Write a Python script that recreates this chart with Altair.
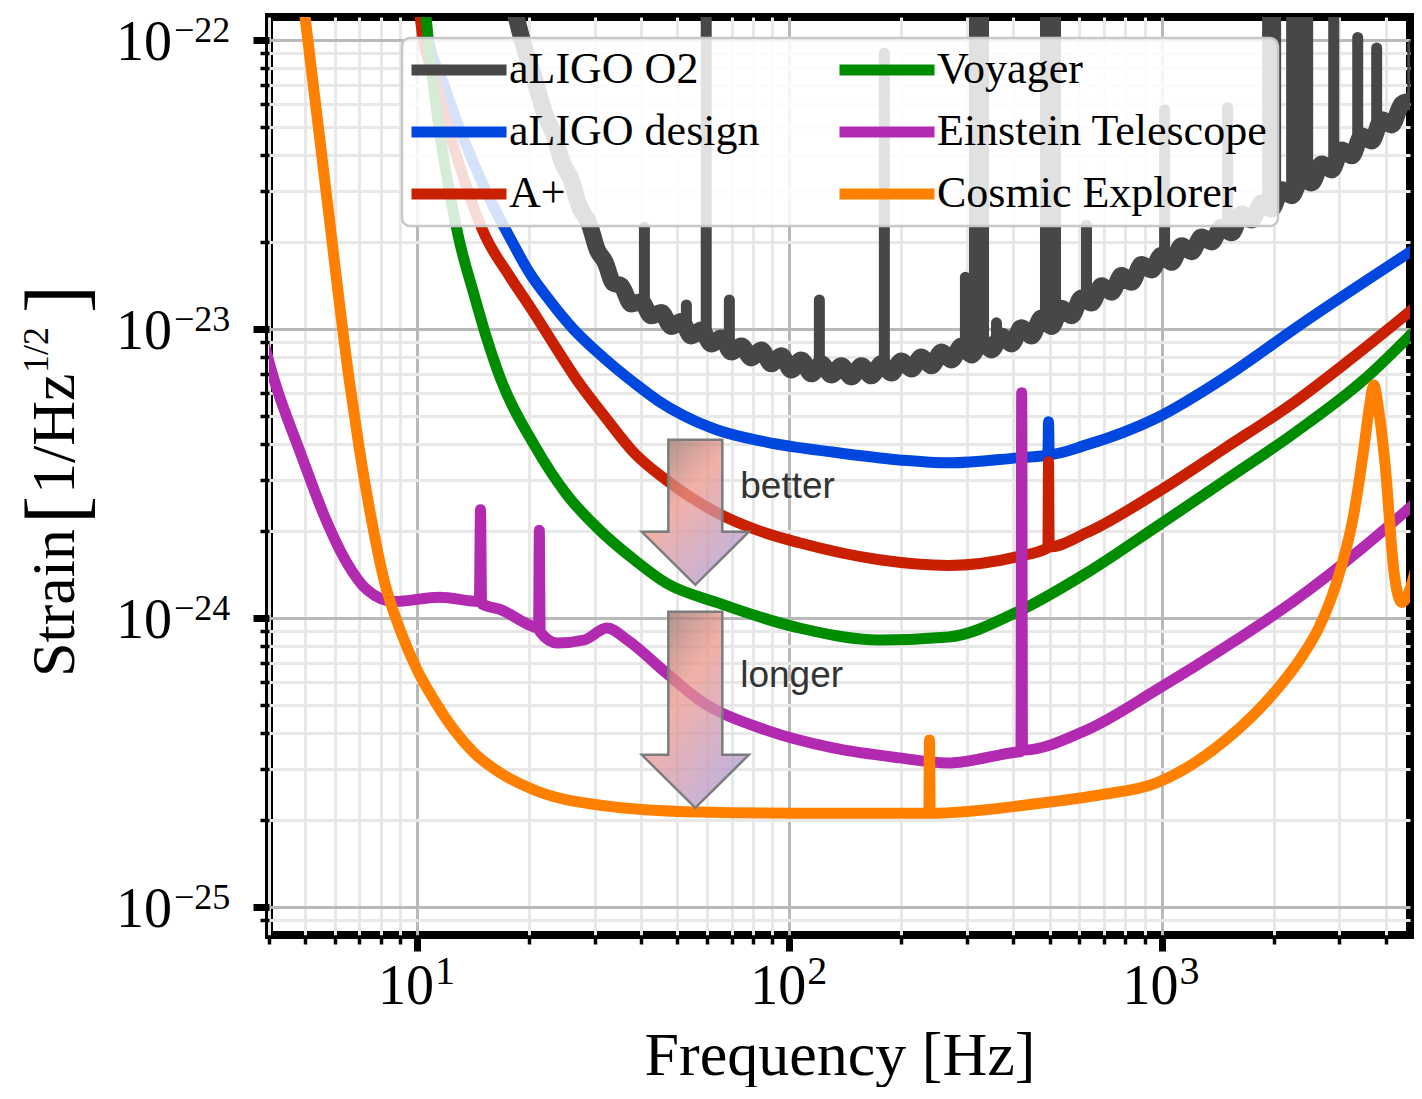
import altair as alt
import pandas as pd

# ---------------- values ----------------
o2_f = [17.89, 18.46, 19.63, 20.63, 21.95, 23.35, 24.54, 25.94, 27.26, 29.00,
        30.47, 32.02, 33.65, 35.35, 37.61, 40.02, 42.56, 45.28, 48.18, 51.25,
        54.52, 57.99, 61.70, 65.63, 69.83, 74.30, 79.03, 84.07, 89.45, 95.17,
        101.2, 107.7, 114.6, 121.9, 129.7, 138.0, 146.8, 156.2, 166.1, 176.8,
        188.1, 200.1, 212.8, 226.4, 240.9, 256.3, 272.7, 290.1, 308.6, 328.3,
        349.3, 371.6, 395.4, 420.6, 447.4, 475.9, 506.3, 538.6, 573.0, 609.5,
        648.4, 690.0, 733.9, 780.8, 830.7, 883.5, 940.0, 1000, 1064, 1132,
        1204, 1281, 1363, 1450, 1543, 1641, 1746, 1858, 1976, 2102,
        2236, 2379, 2531, 2692, 2864, 3047, 3242, 3448, 3668, 3903,
        4152, 4417, 4699, 4937]
o2_h = [1.43e-22, 1.20e-22, 8.95e-23, 7.39e-23, 5.63e-23, 4.65e-23, 3.78e-23, 3.28e-23, 2.66e-23, 2.31e-23,
        1.88e-23, 1.70e-23, 1.44e-23, 1.41e-23, 1.22e-23, 1.24e-23, 1.11e-23, 1.14e-23, 1.02e-23, 1.06e-23,
        9.46e-24, 9.92e-24, 8.87e-24, 9.31e-24, 8.32e-24, 8.73e-24, 7.94e-24, 8.46e-24, 7.57e-24, 8.07e-24,
        7.21e-24, 7.81e-24, 6.99e-24, 7.57e-24, 6.93e-24, 7.45e-24, 6.82e-24, 7.45e-24, 6.88e-24, 7.57e-24,
        7.04e-24, 7.75e-24, 7.27e-24, 8.00e-24, 7.45e-24, 8.32e-24, 7.81e-24, 8.73e-24, 8.13e-24, 9.02e-24,
        8.46e-24, 9.46e-24, 8.87e-24, 1.01e-23, 9.46e-24, 1.09e-23, 1.02e-23, 1.18e-23, 1.11e-23, 1.28e-23,
        1.23e-23, 1.41e-23, 1.34e-23, 1.53e-23, 1.45e-23, 1.67e-23, 1.60e-23, 1.80e-23, 1.70e-23, 1.94e-23,
        1.85e-23, 2.08e-23, 2.00e-23, 2.25e-23, 2.15e-23, 2.50e-23, 2.38e-23, 2.73e-23, 2.60e-23, 3.03e-23,
        2.89e-23, 3.33e-23, 3.20e-23, 3.72e-23, 3.55e-23, 4.16e-23, 3.97e-23, 4.65e-23, 4.47e-23, 5.29e-23,
        5.08e-23, 6.00e-23, 6.20e-23, 7.04e-23]

o2_spike_f = [40.8, 52.9, 59.8, 69.0, 120.4, 180.0, 297.2, 314.4, 332.4, 360.2, 487.7, 518.9, 628.6,
              771.1, 1019, 1505, 1927, 2025, 2236, 2350, 2469, 2901, 3365, 3784, 4728]
o2_spike_base = [1.2e-23, 1.01e-23, 9.3e-24, 8.6e-24, 7.3e-24, 7.3e-24, 8.3e-24, 8.5e-24, 8.6e-24, 8.9e-24,
                 1.06e-23, 1.09e-23, 1.26e-23, 1.48e-23, 1.76e-23, 2.20e-23, 2.64e-23, 2.75e-23, 3.03e-23,
                 3.15e-23, 3.28e-23, 3.84e-23, 4.58e-23, 5.2e-23, 6.6e-23]
o2_spike_top = [2.25e-23, 1.21e-23, 3e-22, 1.26e-23, 1.26e-23, 9.0e-23, 1.51e-23, 3e-22, 3e-22, 1.05e-23,
                3e-22, 3e-22, 2.29e-23, 1.56e-23, 5.72e-23, 5.82e-23, 3e-22, 3e-22, 3e-22, 3e-22, 3e-22,
                3e-22, 1.02e-22, 9.38e-23, 9.61e-23]

design_f = [10.19, 10.44, 11.89, 13.63, 15.62, 17.78, 20.00, 22.64, 26.27, 30.47, 38.31, 44.45, 51.57,
            64.05, 86.75, 130.5, 197.6, 267.6, 410.2, 495, 497, 499, 628.6, 969.6, 1486, 2350, 4877]
design_h = [1.75e-22, 1.20e-22, 6.82e-23, 4.23e-23, 2.84e-23, 2.06e-23, 1.57e-23, 1.26e-23, 1.00e-23,
            8.32e-24, 6.50e-24, 5.64e-24, 5.04e-24, 4.47e-24, 4.06e-24, 3.75e-24, 3.52e-24, 3.44e-24,
            3.58e-24, 3.66e-24, 4.77e-24, 3.68e-24, 3.97e-24, 4.92e-24, 6.82e-24, 1.03e-23, 1.92e-23]

aplus_f = [10.0, 10.19, 11.25, 12.57, 15.23, 17.67, 20.38, 23.35, 26.76, 31.82, 38.31, 46.71, 64.05,
           83.06, 106.4, 174.6, 267.6, 410.2, 495, 497, 499, 628.6, 969.6, 1486, 2278, 3201, 4877]
aplus_h = [1.75e-22, 1.20e-22, 6.99e-23, 4.23e-23, 2.10e-23, 1.53e-23, 1.16e-23, 8.80e-24, 6.71e-24,
           5.00e-24, 3.72e-24, 3.00e-24, 2.31e-24, 2.00e-24, 1.82e-24, 1.59e-24, 1.52e-24, 1.63e-24,
           1.75e-24, 3.47e-24, 1.76e-24, 1.97e-24, 2.71e-24, 3.88e-24, 5.59e-24, 7.81e-24, 1.21e-23]

voyager_f = [10.31, 10.57, 10.97, 11.53, 12.19, 12.97, 14.23, 15.43, 16.72, 20.63, 25.30, 30.85, 38.31,
             46.71, 64.05, 106.4, 174.6, 267.6, 410.2, 628.6, 969.6, 1486, 2278, 3491, 4877]
voyager_h = [1.75e-22, 1.20e-22, 7.56e-23, 4.69e-23, 3.03e-23, 2.03e-23, 1.31e-23, 9.16e-24, 6.77e-24,
             3.97e-24, 2.66e-24, 2.02e-24, 1.59e-24, 1.32e-24, 1.13e-24, 9.23e-25, 8.39e-25, 8.59e-25,
             1.05e-24, 1.43e-24, 2.07e-24, 3.00e-24, 4.37e-24, 6.66e-24, 1.01e-23]

et_f = [3.81, 4.13, 4.85, 5.62, 6.48, 7.34, 8.67, 11.5, 14.7, 14.8, 14.9, 16.7, 20.6, 21.2, 21.3, 21.4,
        23.8, 28.1, 32.4, 36.7, 46.7, 57.3, 86.7, 131, 198, 267, 410, 419, 421, 423, 628, 970, 1486,
        2280, 3491, 4909]
et_h = [9.7e-24, 6.66e-24, 3.75e-24, 2.27e-24, 1.55e-24, 1.25e-24, 1.14e-24, 1.18e-24, 1.14e-24, 2.37e-24,
        1.12e-24, 1.07e-24, 9.31e-25, 9.2e-25, 2.01e-24, 8.95e-25, 8.19e-25, 8.39e-25, 9.23e-25, 8.39e-25,
        6.45e-25, 5.20e-25, 4.09e-25, 3.55e-25, 3.28e-25, 3.15e-25, 3.44e-25, 3.45e-25, 6.01e-24, 3.49e-25,
        4.09e-25, 5.64e-25, 7.94e-25, 1.15e-24, 1.76e-24, 2.56e-24]

ce_f = [4.76, 5.0, 5.73, 6.57, 6.98, 7.48, 8.15, 9.00, 10.0, 11.11, 12.57, 14.23, 16.72, 20.63, 31.04,
        57.65, 106, 175, 237, 238, 239, 476, 681, 970, 1486, 2037, 2350, 2659, 2937, 3281, 3491, 3624,
        3715, 3831, 3975, 4227, 4416, 4642, 4909]
ce_h = [2.0e-22, 1.2e-22, 2.79e-23, 6.66e-24, 3.91e-24, 2.31e-24, 1.35e-24, 9.09e-25, 6.61e-25, 5.20e-25,
        4.10e-25, 3.41e-25, 2.91e-25, 2.54e-25, 2.25e-25, 2.13e-25, 2.11e-25, 2.11e-25, 2.11e-25, 3.78e-25,
        2.11e-25, 2.29e-25, 2.44e-25, 2.69e-25, 3.78e-25, 5.64e-25, 7.16e-25, 9.38e-25, 1.30e-24, 2.27e-24,
        3.81e-24, 5.46e-24, 6.40e-24, 5.25e-24, 3.52e-24, 1.39e-24, 1.13e-24, 1.25e-24, 1.63e-24]

legend_order = ["aLIGO O2", "aLIGO design", "A+", "Voyager", "Einstein Telescope", "Cosmic Explorer"]
legend_colors = ["#474747", "#0047e0", "#c82000", "#008c00", "#b22ab0", "#ff8000"]

x_tick_values = [4, 5, 6, 7, 8, 9, 10, 20, 30, 40, 50, 60, 70, 80, 90,
                 100, 200, 300, 400, 500, 600, 700, 800, 900, 1000, 2000, 3000, 4000]
y_tick_values = [9e-26, 1e-25, 2e-25, 3e-25, 4e-25, 5e-25, 6e-25, 7e-25, 8e-25, 9e-25,
                 1e-24, 2e-24, 3e-24, 4e-24, 5e-24, 6e-24, 7e-24, 8e-24, 9e-24,
                 1e-23, 2e-23, 3e-23, 4e-23, 5e-23, 6e-23, 7e-23, 8e-23, 9e-23, 1e-22]
x_label_values = [10, 100, 1000]
x_label_exp = ["1", "2", "3"]
y_label_values = [1e-25, 1e-24, 1e-23, 1e-22]
y_label_exp = ["\u221225", "\u221224", "\u221223", "\u221222"]

arrow_f = [55.9]
arrow1_h = [2.33e-24]
arrow2_h = [4.81e-25]
note_text = ["better", "longer"]
note_f = [73.8, 73.8]
note_h = [2.84e-24, 6.30e-25]

# ---------------- tables ----------------
def series_df(name, fs, hs):
    return pd.DataFrame({"detector": name, "f": fs, "h": hs, "i": list(range(len(fs)))})

o2_df = series_df("aLIGO O2", o2_f, o2_h)
others_df = pd.concat([
    series_df("aLIGO design", design_f, design_h),
    series_df("A+", aplus_f, aplus_h),
    series_df("Voyager", voyager_f, voyager_h),
    series_df("Einstein Telescope", et_f, et_h),
    series_df("Cosmic Explorer", ce_f, ce_h),
], ignore_index=True)
spikes_df = pd.DataFrame({"f": o2_spike_f, "h": o2_spike_base, "top": o2_spike_top})
xlab_df = pd.DataFrame({"f": x_label_values, "exp": x_label_exp})
ylab_df = pd.DataFrame({"h": y_label_values, "exp": y_label_exp})
arrow1_df = pd.DataFrame({"f": arrow_f, "h": arrow1_h})
arrow2_df = pd.DataFrame({"f": arrow_f, "h": arrow2_h})
notes_df = pd.DataFrame({"f": note_f, "h": note_h, "t": note_text})
one_df = pd.DataFrame({"k": [0]})

# ---------------- scales / axes ----------------
W, H = 1141, 918
xscale = alt.Scale(type="log", domain=[4, 4650], nice=False)
yscale = alt.Scale(type="log", domain=[8e-26, 1.2e-22], nice=False)

major = "abs(log(datum.value)/LN10 - round(log(datum.value)/LN10)) < 0.001"


def cond(a, b):
    return {"condition": {"test": major, "value": a}, "value": b}


xaxis = alt.Axis(values=x_tick_values, labels=False, domain=False, tickColor="black",
                 tickSize=cond(16, 9), tickWidth=cond(7, 3.5), grid=True,
                 gridColor=cond("#b9b9b9", "#e8e8e8"), gridWidth=3,
                 title="Frequency [Hz]", titleFont="Liberation Serif", titleFontSize=62,
                 titleFontWeight="normal", titleColor="black", titleY=139,
                 titleBaseline="alphabetic")
yaxis = alt.Axis(values=y_tick_values, labels=False, domain=False, tickColor="black",
                 tickSize=cond(16, 9), tickWidth=cond(7, 3.5), grid=True,
                 gridColor=cond("#b9b9b9", "#e8e8e8"), gridWidth=3, title=None)

X = alt.X("f:Q", scale=xscale, axis=xaxis)
Y = alt.Y("h:Q", scale=yscale, axis=yaxis)

legend = alt.Legend(orient="none", legendX=133, legendY=21, columns=2, title=None,
                    symbolType="M-45,0L145,0", symbolSize=1, symbolStrokeWidth=11, symbolOpacity=1,
                    labelFont="Liberation Serif", labelFontSize=44, labelColor="black",
                    labelLimit=700, labelOffset=53, fillColor="rgba(255,255,255,0.84)",
                    strokeColor="#c8c8c8", cornerRadius=8, padding=10, rowPadding=18,
                    columnPadding=57)
color = alt.Color("detector:N", scale=alt.Scale(domain=legend_order, range=legend_colors),
                  legend=legend)

o2_line = alt.Chart(o2_df).mark_line(clip=True, interpolate="monotone", strokeWidth=17,
                                     strokeJoin="round", strokeCap="round").encode(
    x=X, y=Y, color=color, order="i:Q")
spikes = alt.Chart(spikes_df).mark_rule(clip=True, strokeWidth=11, strokeCap="round",
                                        color="#474747").encode(x=X, y=Y, y2="top:Q")
other_lines = alt.Chart(others_df).mark_line(clip=True, interpolate="monotone", strokeWidth=11,
                                             strokeJoin="round", strokeCap="round").encode(
    x=X, y=Y, color=color, order="i:Q")

grad = alt.LinearGradient(gradient="linear", x1=0.1, y1=0, x2=0.9, y2=1, stops=[
    alt.GradientStop(offset=0, color="rgba(140,112,108,0.80)"),
    alt.GradientStop(offset=0.38, color="rgba(236,150,138,0.74)"),
    alt.GradientStop(offset=1, color="rgba(165,158,226,0.78)"),
])
arrow1_path = "M-0.27,-0.72L0.27,-0.72L0.27,0.20L0.535,0.20L0,0.73L-0.535,0.20L-0.27,0.20Z"
arrow2_path = "M-0.27,-0.98L0.27,-0.98L0.27,0.45L0.535,0.45L0,0.98L-0.535,0.45L-0.27,0.45Z"
arrow1 = alt.Chart(arrow1_df).mark_point(shape=arrow1_path, size=40000, filled=True, fill=grad,
                                         stroke="#7c7c7c", strokeWidth=2.5, opacity=1).encode(x=X, y=Y)
arrow2 = alt.Chart(arrow2_df).mark_point(shape=arrow2_path, size=40000, filled=True, fill=grad,
                                         stroke="#7c7c7c", strokeWidth=2.5, opacity=1).encode(x=X, y=Y)
notes = alt.Chart(notes_df).mark_text(font="Liberation Sans", fontSize=37, align="left",
                                      baseline="middle", color="#333333").encode(x=X, y=Y, text="t:N")

serif = "Liberation Serif"
ylab_base = alt.Chart(ylab_df).mark_text(text="10", font=serif, fontSize=56, align="right",
                                         baseline="middle", dy=3, color="black").encode(
    y=Y, x=alt.value(-97))
ylab_exp = alt.Chart(ylab_df).mark_text(font=serif, fontSize=36, align="left", baseline="middle",
                                        dy=-9, color="black").encode(
    y=Y, x=alt.value(-95), text="exp:N")
xlab_base = alt.Chart(xlab_df).mark_text(text="10", font=serif, fontSize=56, align="right",
                                         baseline="middle", dx=17, color="black").encode(
    x=X, y=alt.value(H + 52))
xlab_exp = alt.Chart(xlab_df).mark_text(font=serif, fontSize=40, align="left", baseline="middle",
                                        dx=18, color="black").encode(
    x=X, y=alt.value(H + 37), text="exp:N")


def rot(txt, size, xv, yv):
    return alt.Chart(one_df).mark_text(text=txt, font=serif, fontSize=size, angle=270, align="left",
                                       baseline="alphabetic", color="black").encode(
        x=alt.value(xv), y=alt.value(yv))


ytitle = [
    rot("Strain", 62, -195, 660),
    rot("[", 84, -185, 507),
    rot("1/Hz", 62, -195, 477),
    rot("1/2", 36, -221, 356),
    rot("]", 84, -185, 296),
]

chart = alt.layer(o2_line, spikes, other_lines, arrow1, arrow2, notes,
                  ylab_base, ylab_exp, xlab_base, xlab_exp, *ytitle).properties(
    width=W, height=H,
    autosize=alt.AutoSizeParams(type="none"),
    padding={"left": 261, "top": 9, "right": 4, "bottom": 152},
).configure_view(stroke="black", strokeWidth=8).configure_legend(strokeWidth=2.5)

chart.save("out.html", embed_options={"renderer": "svg", "actions": False})
